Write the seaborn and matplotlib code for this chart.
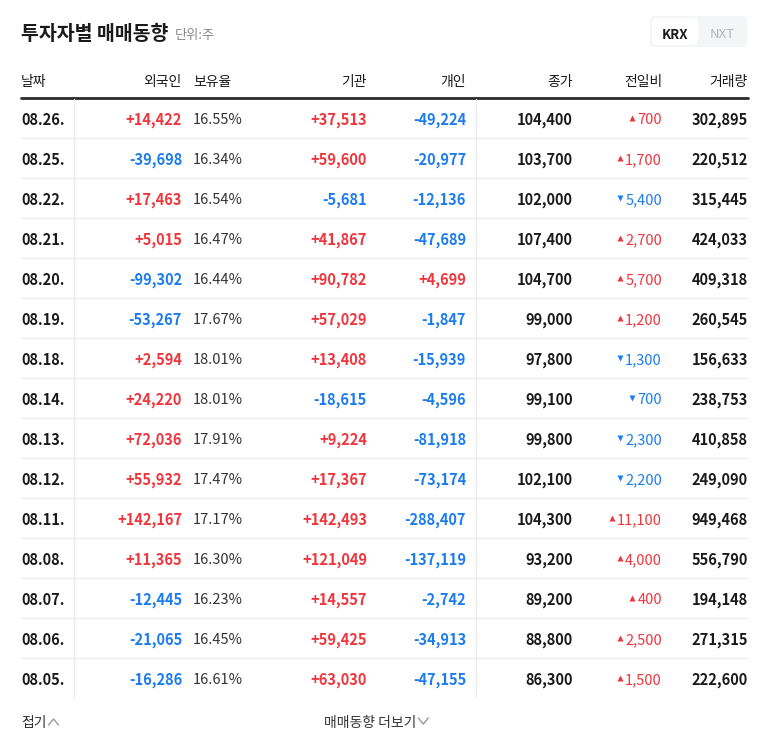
import matplotlib.pyplot as plt
import seaborn as sns
from matplotlib.patches import FancyBboxPatch

dates = ["08.26.", "08.25.", "08.22.", "08.21.", "08.20.", "08.19.", "08.18.", "08.14.",
         "08.13.", "08.12.", "08.11.", "08.08.", "08.07.", "08.06.", "08.05."]
foreign = [14422, -39698, 17463, 5015, -99302, -53267, 2594, 24220,
           72036, 55932, 142167, 11365, -12445, -21065, -16286]
holding = [16.55, 16.34, 16.54, 16.47, 16.44, 17.67, 18.01, 18.01,
           17.91, 17.47, 17.17, 16.30, 16.23, 16.45, 16.61]
institution = [37513, 59600, -5681, 41867, 90782, 57029, 13408, -18615,
               9224, 17367, 142493, 121049, 14557, 59425, 63030]
individual = [-49224, -20977, -12136, -47689, 4699, -1847, -15939, -4596,
              -81918, -73174, -288407, -137119, -2742, -34913, -47155]
close = [104400, 103700, 102000, 107400, 104700, 99000, 97800, 99100,
         99800, 102100, 104300, 93200, 89200, 88800, 86300]
change = [700, 1700, -5400, 2700, 5700, 1200, -1300, -700,
          -2300, -2200, 11100, 4000, 400, 2500, 1500]
volume = [302895, 220512, 315445, 424033, 409318, 260545, 156633, 238753,
          410858, 249090, 949468, 556790, 194148, 271315, 222600]
headers = ["날짜", "외국인", "보유율", "기관", "개인", "종가", "전일비", "거래량"]

RED = "#f0353c"
BLUE = "#1b7cf0"
DARK = "#1a1a1a"

sns.set_theme(style="white")
plt.rcParams["font.family"] = ["Noto Sans CJK KR", "Noto Sans CJK JP", "DejaVu Sans"]
fig = plt.figure(figsize=(7.68, 7.49), dpi=100)
ax = fig.add_axes([0, 0, 1, 1])
ax.set_xlim(0, 768)
ax.set_ylim(749, 0)
ax.axis("off")
FS = 10.5
DY = 2  # CJK font sits a bit high with va=center


def signed(v):
    return f"{v:+,}"


def col(v):
    return RED if v > 0 else BLUE


def ext(t):
    fig.canvas.draw()
    return t.get_window_extent().transformed(ax.transData.inverted())


# title block
t = ax.text(21, 32 + DY, "투자자별 매매동향", fontsize=14, fontweight="bold", color=DARK, va="center")
ax.text(ext(t).x1 + 6, 33 + DY, "단위:주", fontsize=9.5, color="#888888", va="center")
ax.add_patch(FancyBboxPatch((650, 16), 97, 31, boxstyle="round,pad=0,rounding_size=5",
                            fc="#f4f5f7", ec="none"))
ax.add_patch(FancyBboxPatch((652, 18), 46, 27, boxstyle="round,pad=0,rounding_size=4",
                            fc="white", ec="none"))
ax.text(675, 33 + DY, "KRX", fontsize=9.5, fontweight="bold", color=DARK, ha="center", va="center")
ax.text(722, 33 + DY, "NXT", fontsize=9.5, color="#b5b8bd", ha="center", va="center")

# header row
hx = [(21, "left"), (182, "right"), (193, "left"), (367, "right"),
      (466, "right"), (573, "right"), (662, "right"), (748, "right")]
for (x, ha), h in zip(hx, headers):
    ax.text(x, 80 + DY, h, fontsize=10, color=DARK, ha=ha, va="center")
ax.plot([21, 748], [97.5, 97.5], color="#2b2b2b", lw=2)

y0, step = 118, 40
n = len(dates)
for i in range(n):
    y = y0 + i * step
    ty = y + DY
    ax.text(21, ty, dates[i], fontsize=FS, fontweight="bold", color=DARK, va="center")
    ax.text(182, ty, signed(foreign[i]), fontsize=FS, fontweight="bold", color=col(foreign[i]),
            ha="right", va="center")
    ax.text(193, ty, f"{holding[i]:.2f}%", fontsize=FS, color="#333333", va="center")
    ax.text(367, ty, signed(institution[i]), fontsize=FS, fontweight="bold",
            color=col(institution[i]), ha="right", va="center")
    ax.text(466, ty, signed(individual[i]), fontsize=FS, fontweight="bold",
            color=col(individual[i]), ha="right", va="center")
    ax.text(573, ty, f"{close[i]:,}", fontsize=FS, fontweight="bold", color=DARK,
            ha="right", va="center")
    c = change[i]
    t = ax.text(662, ty, f"{abs(c):,}", fontsize=FS, color=col(c), ha="right", va="center")
    ax.plot(ext(t).x0 - 5, y, marker="^" if c > 0 else "v", ms=5, color=col(c), mec="none")
    ax.text(748, ty, f"{volume[i]:,}", fontsize=FS, fontweight="bold", color=DARK,
            ha="right", va="center")
    if i < n - 1:
        ax.plot([21, 748], [y + 20, y + 20], color="#ececec", lw=1)

ybot = y0 + (n - 1) * step + 20
for x in (73.5, 475.5):
    ax.plot([x, x], [98.5, ybot], color="#ececec", lw=1)

# footer
t = ax.text(21, 721 + DY, "접기", fontsize=10, color="#333333", va="center")
x1 = ext(t).x1
ax.plot([x1 + 2, x1 + 7, x1 + 12], [725, 719, 725], color="#999999", lw=1)
t = ax.text(324, 721 + DY, "매매동향 더보기", fontsize=10, color="#333333", va="center")
x1 = ext(t).x1
ax.plot([x1 + 2, x1 + 7, x1 + 12], [718, 724, 718], color="#999999", lw=1)

fig.savefig("out.png", dpi=100, facecolor="white")
